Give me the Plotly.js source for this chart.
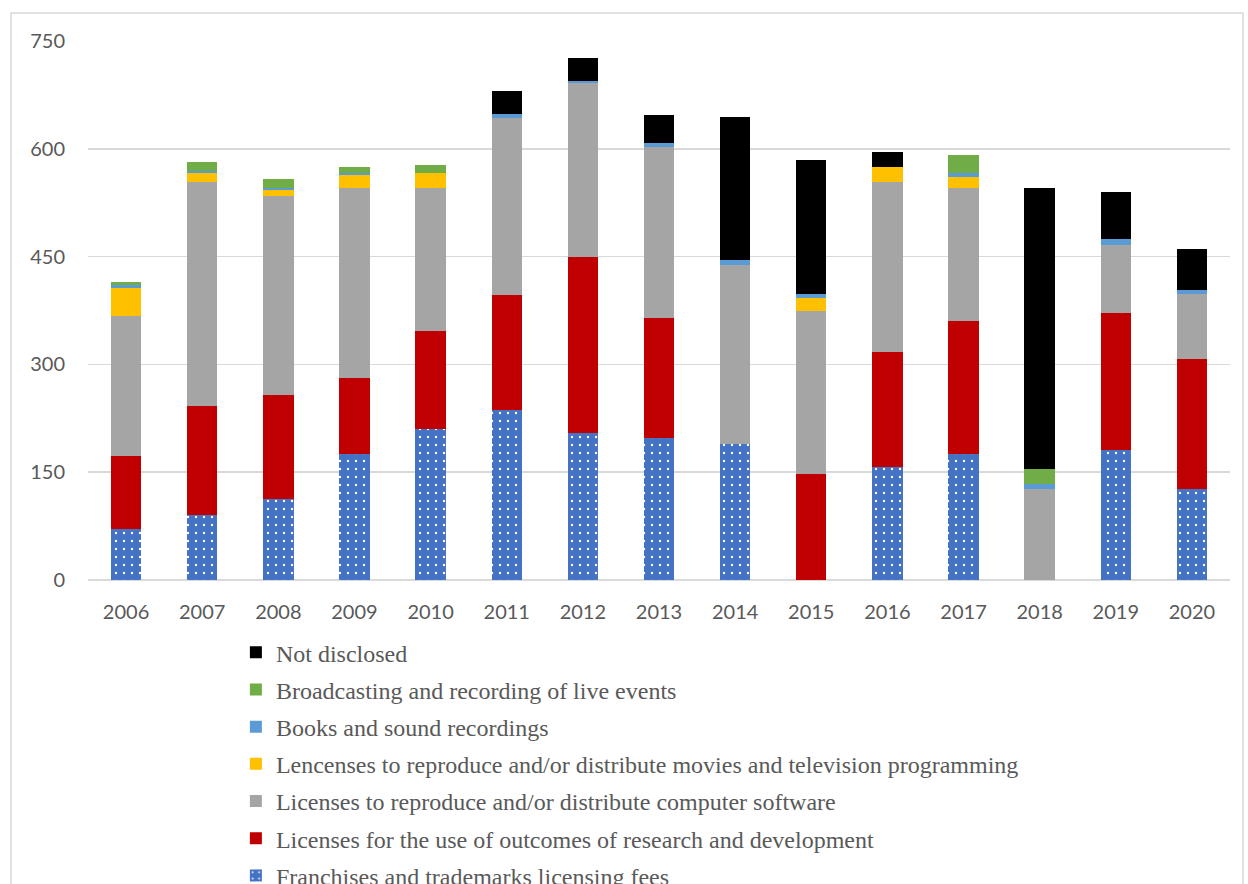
<!DOCTYPE html>
<html>
<head>
<meta charset="utf-8">
<script src="https://cdn.plot.ly/plotly-3.0.1.min.js"></script>
<style>
  html, body { margin: 0; padding: 0; background: #ffffff; }
  #chart { width: 1248px; height: 884px; }
</style>
</head>
<body>
<div id="chart"></div>
<script>
const years = ['2006','2007','2008','2009','2010','2011','2012','2013','2014','2015','2016','2017','2018','2019','2020'];

const franchises   = [71, 91, 113, 175, 210, 237, 204, 198, 189, 0, 157, 175, 0, 181, 127];
const researchDev  = [101, 151, 145, 106, 136, 159, 246, 167, 0, 148, 160, 186, 0, 190, 181];
const software     = [196, 312, 276, 264, 199, 247, 241, 237, 250, 226, 237, 185, 127, 95, 90];
const movies       = [39, 12, 9, 18, 21, 0, 0, 0, 0, 18, 21, 15, 0, 0, 0];
const books        = [3, 3, 3, 3, 0, 6, 3, 6, 6, 6, 0, 6, 6, 9, 6];
const liveEvents   = [5, 12, 12, 9, 12, 0, 0, 0, 0, 0, 0, 24, 21, 0, 0];
const notDisclosed = [0, 0, 0, 0, 0, 32, 33, 39, 199, 187, 20, 0, 391, 65, 56];

const seriesNames = [
  'Franchises and trademarks licensing fees',
  'Licenses for the use of outcomes of research and development',
  'Licenses to reproduce and/or distribute computer software',
  'Lencenses to reproduce and/or distribute movies and television programming',
  'Books and sound recordings',
  'Broadcasting and recording of live events',
  'Not disclosed'
];
const seriesValues = [franchises, researchDev, software, movies, books, liveEvents, notDisclosed];
const seriesColors = ['#4472C4', '#C00000', '#A5A5A5', '#FFC000', '#5B9BD5', '#70AD47', '#000000'];

const traces = seriesNames.map((name, i) => {
  const t = {
    type: 'bar',
    name: name,
    x: years,
    y: seriesValues[i],
    legendgroup: 'g' + i,
    legendrank: 100 - i,
    marker: { color: seriesColors[i], line: { width: 0 } },
    hoverinfo: 'x+y+name'
  };
  if (i === 0) {
    t.marker.pattern = { shape: '.', bgcolor: '#4472C4', fgcolor: '#ffffff', size: 8, solidity: 0.07, fillmode: 'replace' };
  }
  return t;
});

const layout = {
  width: 1248,
  height: 884,
  barmode: 'stack',
  bargap: 0.6,
  paper_bgcolor: '#ffffff',
  plot_bgcolor: '#ffffff',
  margin: { l: 88, r: 18, t: 41, b: 304, autoexpand: false },
  showlegend: true,
  legend: {
    traceorder: 'grouped',
    orientation: 'v',
    x: 0.1295,
    xanchor: 'left',
    y: -0.093,
    yanchor: 'top',
    tracegroupgap: 3,
    font: { family: '"Liberation Serif", "Times New Roman", serif', size: 24, color: '#595959' },
    bgcolor: 'rgba(0,0,0,0)'
  },
  xaxis: {
    type: 'category',
    showgrid: false,
    showline: false,
    ticks: '',
    ticklabelstandoff: 18,
    tickfont: { family: 'Lato, "Open Sans", sans-serif', size: 20, color: '#595959' }
  },
  yaxis: {
    range: [0, 750],
    tickvals: [0, 150, 300, 450, 600, 750],
    ticktext: ['0', '150', '300', '450', '600', '750'],
    showgrid: true,
    gridcolor: '#D9D9D9',
    gridwidth: 1.5,
    zeroline: true,
    zerolinecolor: '#D9D9D9',
    zerolinewidth: 1.5,
    showline: false,
    ticks: '',
    ticklabelstandoff: 22,
    tickfont: { family: 'Lato, "Open Sans", sans-serif', size: 20, color: '#595959' }
  },
  shapes: [{
    type: 'rect',
    xref: 'paper', yref: 'paper',
    x0: (11 - 88) / 1142, x1: (1243 - 88) / 1142,
    y0: (580 - 900) / 539, y1: (580 - 13) / 539,
    line: { color: '#D9D9D9', width: 1.5 },
    fillcolor: 'rgba(0,0,0,0)',
    layer: 'below'
  }]
};

Plotly.newPlot('chart', traces, layout, { displayModeBar: false, staticPlot: true });
</script>
</body>
</html>
